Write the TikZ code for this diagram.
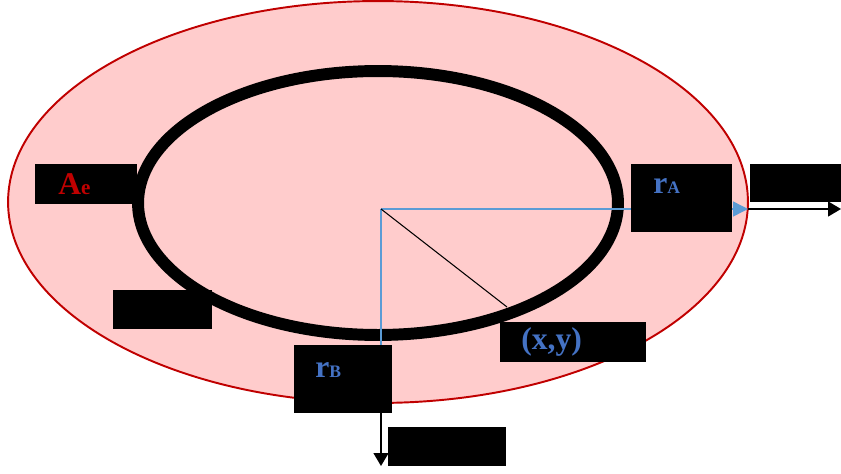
\documentclass[tikz,border=0pt]{standalone}
\usepackage{fontspec}
\setmainfont{Liberation Serif}
\usepackage{xcolor}
\usepackage{tikz}
\usetikzlibrary{positioning,arrows.meta}
\definecolor{ringpink}{HTML}{FFCCCC}
\definecolor{ringred}{HTML}{C00000}
\definecolor{axisblue}{HTML}{5B9BD5}
\definecolor{labelblue}{HTML}{4472C4}

\begin{document}
\begin{tikzpicture}[
    x=0.02cm, y=-0.02cm,
    box/.style={fill=black, inner sep=0pt},
    lbl/.style={anchor=base west, inner sep=0pt, font=\bfseries\fontsize{18}{20}\selectfont},
    axis/.style={-{Triangle[length=0.3cm, width=0.3cm]}, axisblue, line width=0.8pt},
    arrow/.style={-{Triangle[length=0.26cm, width=0.3cm]}, black, line width=0.8pt}
]
\useasboundingbox (0,0) rectangle (841,473);

\fill[ringpink] (378,202) ellipse [x radius=7.4cm, y radius=4.02cm];
\draw[ringred, line width=1.1pt] (378,202) ellipse [x radius=7.4cm, y radius=4.02cm];
\draw[black, line width=6.8pt] (378,203) ellipse [x radius=4.8cm, y radius=2.64cm];

\coordinate (O) at (381,209);
\coordinate (rAend) at (748,209);
\coordinate (xend) at (841,209);
\coordinate (rBend) at (381,403);
\coordinate (yend) at (381,466);
\coordinate (P) at (507,307);

\draw[axis] (O) -- (rAend);
\draw[axis] (O) -- (rBend);
\draw[arrow] (rAend) -- (xend);
\draw[arrow] (rBend) -- (yend);
\draw[black, line width=0.6pt] (O) -- (P);

\node[box, minimum width=2.04cm, minimum height=0.8cm] (boxAe) at (86,184) {};
\node[box, minimum width=2.02cm, minimum height=1.36cm] (boxA) at (681.5,198) {};
\node[box, minimum width=1.82cm, minimum height=0.76cm] (boxX) at (795.5,183) {};
\node[box, minimum width=1.98cm, minimum height=0.78cm] (boxL) at (162.5,309.5) {};
\node[box, minimum width=1.96cm, minimum height=1.36cm] (boxB) at (343,379) {};
\node[box, minimum width=2.92cm, minimum height=0.8cm] (boxXY) at (573,342) {};
\node[box, minimum width=2.36cm, minimum height=0.78cm] (boxY) at (447,446.5) {};

\node[lbl, ringred] (Ae) at (58,194) {A{\fontsize{12}{12}\selectfont e}};
\node[lbl, labelblue] (rA) at (653,193) {r{\fontsize{10}{10}\selectfont A}};
\node[lbl, labelblue] (rB) at (315,377) {r{\fontsize{10}{10}\selectfont B}};
\node[lbl, labelblue] (xy) at (521,349) {(x,y)};

\end{tikzpicture}
\end{document}
